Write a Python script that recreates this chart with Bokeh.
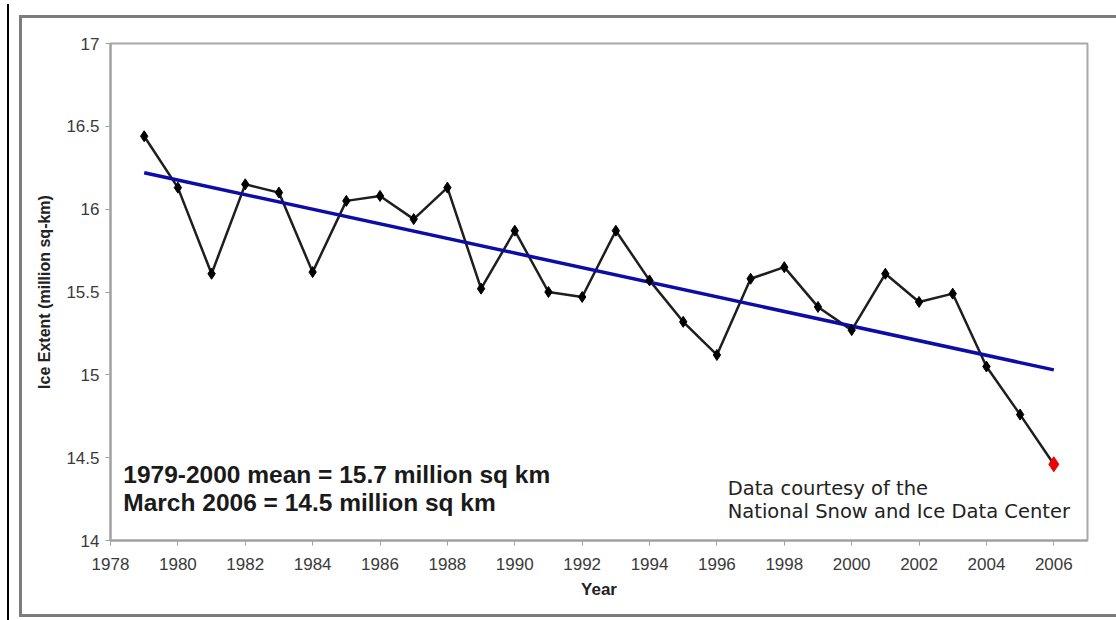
from bokeh.plotting import figure
from bokeh.models import Label, Range1d, FixedTicker
from bokeh.embed import file_html
from bokeh.resources import INLINE

years = [1979, 1980, 1981, 1982, 1983, 1984, 1985, 1986, 1987, 1988, 1989, 1990,
         1991, 1992, 1993, 1994, 1995, 1996, 1997, 1998, 1999, 2000, 2001, 2002,
         2003, 2004, 2005, 2006]
extent = [16.44, 16.13, 15.61, 16.15, 16.10, 15.62, 16.05, 16.08, 15.94, 16.13,
          15.52, 15.87, 15.50, 15.47, 15.87, 15.57, 15.32, 15.12, 15.58, 15.65,
          15.41, 15.27, 15.61, 15.44, 15.49, 15.05, 14.76, 14.46]
trend_years = [1979, 2006]
trend_values = [16.22, 15.03]
x_ticks = list(range(1978, 2007, 2))
y_ticks = [14, 14.5, 15, 15.5, 16, 16.5, 17]
y_tick_labels = {14: "14", 14.5: "14.5", 15: "15", 15.5: "15.5", 16: "16", 16.5: "16.5", 17: "17"}

p = figure(width=1116, height=620, output_backend="svg", toolbar_location=None,
           x_range=Range1d(1978, 2007), y_range=Range1d(14, 17),
           min_border_left=110, min_border_right=29, min_border_top=43, min_border_bottom=80)
p.xgrid.visible = False
p.ygrid.visible = False
p.background_fill_color = "white"
p.border_fill_color = None
p.outline_line_color = "#a8a8a8"
p.outline_line_width = 2

# outer frame of the original graphic, drawn as CSS background layers behind the canvas
g = "linear-gradient(#7c7c7c,#7c7c7c)"
p.styles = {
    "background-color": "white",
    "background-image": ", ".join([g, g, g, "linear-gradient(#000,#000)"]),
    "background-position": "19px 15px, 19px 15px, 19px 614px, 7px 4px",
    "background-size": "1110px 3px, 3px 602px, 1110px 3px, 2px 616px",
    "background-repeat": "no-repeat",
}

for ax in (p.xaxis[0], p.yaxis[0]):
    ax.axis_line_color = "#a0a0a0"
    ax.axis_line_width = 2
    ax.major_tick_line_color = "#a0a0a0"
    ax.major_tick_out = 5
    ax.major_tick_in = 0
    ax.minor_tick_line_color = None
    ax.major_label_text_font = "Liberation Sans"
    ax.major_label_text_font_size = "17px"
    ax.major_label_text_color = "#3a3a3a"
    ax.axis_label_text_font = "Liberation Sans"
    ax.axis_label_text_font_style = "bold"
    ax.axis_label_text_color = "#222222"

p.xaxis.ticker = FixedTicker(ticks=x_ticks)
p.yaxis.ticker = FixedTicker(ticks=y_ticks)
p.yaxis.major_label_overrides = y_tick_labels
p.xaxis.major_label_standoff = 12
p.yaxis.major_label_standoff = 6
p.xaxis.axis_label = "Year"
p.xaxis.axis_label_text_font_size = "17px"
p.xaxis.axis_label_standoff = 7
p.yaxis.axis_label = "Ice Extent (million sq-km)"
p.yaxis.axis_label_text_font_size = "16px"
p.yaxis.axis_label_standoff = 10

p.line(years, extent, line_color="#1e1e1e", line_width=2.5)
p.line(trend_years, trend_values, line_color="#0c0ca6", line_width=3.5)
p.scatter(years[:-1], extent[:-1], marker="diamond", size=11, fill_color="black", line_color="black")
p.scatter(years[-1:], extent[-1:], marker="diamond", size=15, fill_color="#ee0000", line_color="#ee0000")

p.add_layout(Label(x=1978.38, y=14.398, text="1979-2000 mean = 15.7 million sq km",
                   text_font="Liberation Sans", text_font_style="bold", text_font_size="24.5px",
                   text_color="#1a1a1a", text_baseline="middle"))
p.add_layout(Label(x=1978.38, y=14.229, text="March 2006 = 14.5 million sq km",
                   text_font="Liberation Sans", text_font_style="bold", text_font_size="24.5px",
                   text_color="#1a1a1a", text_baseline="middle"))
p.add_layout(Label(x=1996.32, y=14.314, text="Data courtesy of the",
                   text_font="DejaVu Sans", text_font_size="19.5px",
                   text_color="#222222", text_baseline="middle"))
p.add_layout(Label(x=1996.32, y=14.175, text="National Snow and Ice Data Center",
                   text_font="DejaVu Sans", text_font_size="19.5px",
                   text_color="#222222", text_baseline="middle"))

open("out.html", "w").write(file_html(p, INLINE))
